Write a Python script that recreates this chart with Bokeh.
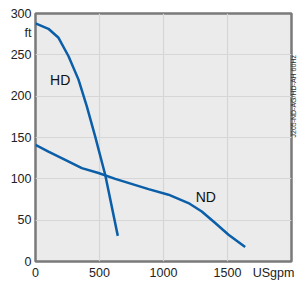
import math
from bokeh.plotting import figure
from bokeh.models import FixedTicker, Label, LinearAxis
from bokeh.embed import file_html
from bokeh.resources import INLINE

# data
hd_flow = [0, 101, 180, 258, 336, 401, 466, 545, 643]
hd_head = [288, 281.5, 270.6, 248.3, 220, 187.7, 151.4, 104.7, 31]
nd_flow = [0, 101, 232, 362, 492, 623, 883, 1039, 1195, 1299, 1404, 1508, 1638]
nd_head = [141, 133, 123, 113, 107, 100, 87.5, 80.8, 70.7, 60.5, 46.5, 32.3, 17.4]
x_ticks = [0, 500, 1000, 1500]
y_ticks = [0, 50, 100, 150, 200, 250, 300]
x_unit = "USgpm"
y_unit = "ft"
note = "J205-ND-AG/HD-AH 60Hz"

FONT = "Liberation Sans"
BLUE = "#0b5ea8"

p = figure(frame_width=256, frame_height=248, x_range=(0, 2000), y_range=(0, 300),
           output_backend="svg", toolbar_location=None,
           min_border_left=35, min_border_right=0, min_border_top=13, min_border_bottom=13)
p.background_fill_color = "#ebebeb"
p.border_fill_color = "white"
p.outline_line_color = "#7a7a7a"
p.outline_line_width = 2.5

# axes with unit labels as extra ticks
xt = x_ticks + [1860]
yt = y_ticks + [277]
p.xaxis.ticker = FixedTicker(ticks=xt)
p.xaxis.major_label_overrides = {1860: x_unit}
p.yaxis.ticker = FixedTicker(ticks=yt)
p.yaxis.major_label_overrides = {277: y_unit}
for ax in (p.xaxis[0], p.yaxis[0]):
    ax.axis_line_color = None
    ax.major_tick_line_color = None
    ax.minor_tick_line_color = None
    ax.major_tick_out = 0
    ax.major_tick_in = 0
    ax.major_label_text_font = FONT
    ax.major_label_text_font_size = "12.5px"
    ax.major_label_text_color = "#222222"
p.xaxis.major_label_standoff = 4
p.yaxis.major_label_standoff = 4

# right-side note as a rotated axis label
rax = LinearAxis(ticker=FixedTicker(ticks=[]), axis_line_color=None,
                 major_tick_line_color=None, minor_tick_line_color=None,
                 major_tick_out=0, major_tick_in=0, major_label_standoff=0,
                 major_label_text_font_size="1px",
                 axis_label=note, axis_label_standoff=2,
                 axis_label_orientation=math.pi / 2,
                 axis_label_text_font=FONT, axis_label_text_font_size="7px",
                 axis_label_text_font_style="normal", axis_label_text_color="#333333")
rax.axis_label_align = "center"
p.add_layout(rax, "right")

p.xgrid.ticker = FixedTicker(ticks=[500, 1000, 1500])
p.ygrid.ticker = FixedTicker(ticks=[50, 100, 150, 200, 250])
p.xgrid.grid_line_color = "#d6d6d6"
p.ygrid.grid_line_color = "#d6d6d6"
p.xgrid.grid_line_width = 1.2
p.ygrid.grid_line_width = 1.2

p.line(hd_flow, hd_head, line_color=BLUE, line_width=2.5)
p.line(nd_flow, nd_head, line_color=BLUE, line_width=2.5)

p.add_layout(Label(x=193, y=220, text="HD", text_font=FONT, text_font_size="14px",
                   text_color="#111111", text_align="center", text_baseline="middle"))
p.add_layout(Label(x=1330, y=78, text="ND", text_font=FONT, text_font_size="14px",
                   text_color="#111111", text_align="center", text_baseline="middle"))

open("out.html", "w").write(file_html(p, INLINE))
